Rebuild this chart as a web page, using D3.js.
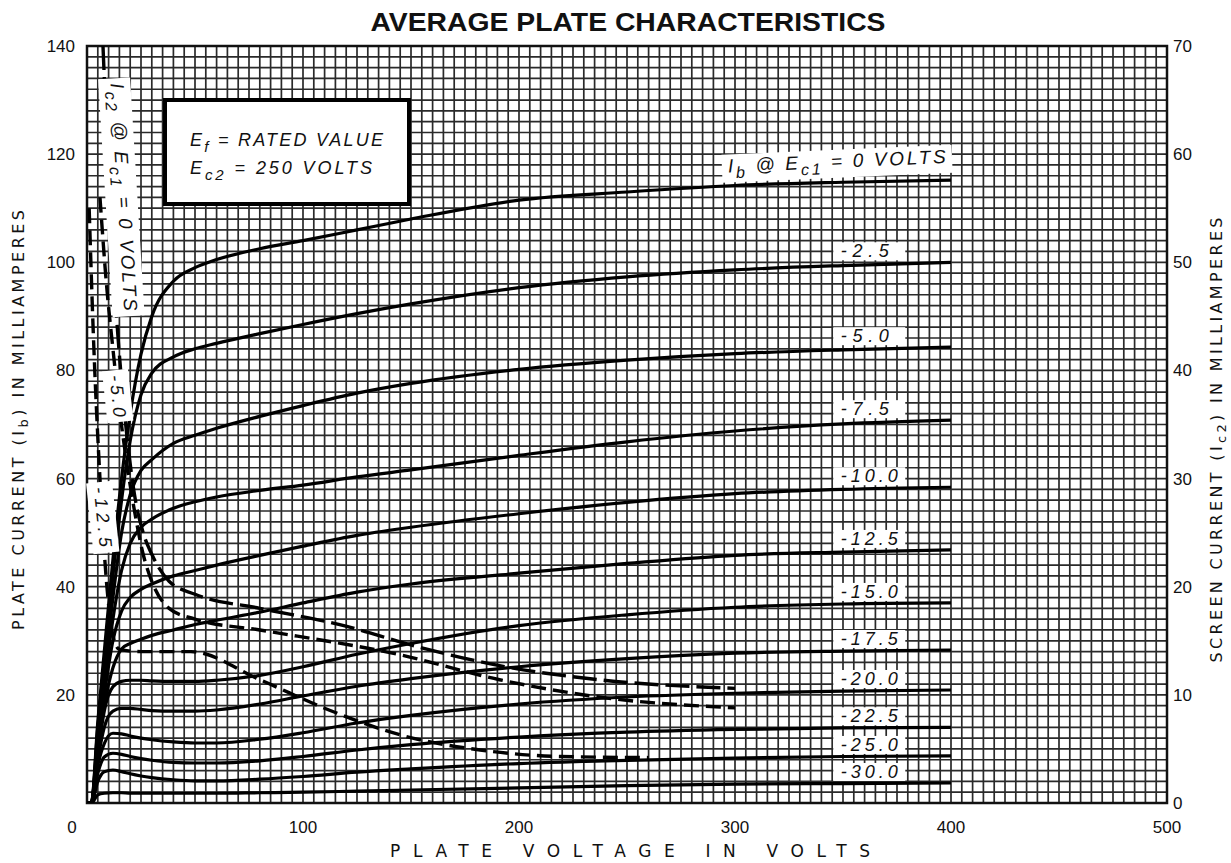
<!DOCTYPE html>
<html>
<head>
<meta charset="utf-8">
<script src="https://cdn.jsdelivr.net/npm/d3@7"></script>
<style>
  body { margin: 0; background: #fff; }
  text { font-family: "Liberation Sans", "DejaVu Sans", sans-serif; fill: #111; }
  .title { font-family: "DejaVu Sans", sans-serif; }
</style>
</head>
<body>
<div id="chart"></div>
<script>
// plate voltage samples shared by all Ib curves
const plateVolts = [2, 5, 8, 12, 16, 20, 25, 30, 40, 50, 60, 80, 100, 125, 150, 200, 250, 300, 350, 400];

// plate current (mA) for each control grid voltage
const ib_0    = [0, 15, 28, 45, 60, 72, 83, 90, 96.5, 99, 100.5, 102.5, 104, 106, 108, 111.5, 113, 114.2, 114.8, 115.2];
const ib_2_5  = [0, 14, 26, 42, 56, 67, 75.5, 79.5, 82.5, 84, 85, 86.8, 88.5, 90.5, 92.3, 95.3, 97.3, 98.6, 99.4, 100];
const ib_5    = [0, 13, 24, 38, 50, 57, 61.5, 63.5, 66.5, 68, 69.3, 71.5, 73.5, 75.8, 77.6, 80.2, 81.9, 83.1, 83.8, 84.3];
const ib_7_5  = [0, 12, 22, 34, 43, 48, 51, 52.5, 54.5, 55.7, 56.6, 57.8, 58.8, 60.3, 61.6, 64.3, 66.8, 68.8, 70.1, 70.8];
const ib_10   = [0, 11, 20, 30, 35.5, 38, 39.5, 40.5, 42, 43, 44, 45.8, 47.5, 49.5, 51, 53.5, 55.6, 57.2, 58, 58.4];
const ib_12_5 = [0, 10, 18, 25, 28.5, 29.5, 30.3, 31, 32, 33, 33.8, 35.3, 37, 39, 40.5, 42.5, 44.3, 45.8, 46.4, 46.8];
const ib_15   = [0, 9, 17, 21.5, 22.5, 22.7, 22.7, 22.6, 22.5, 22.5, 22.7, 23.6, 25.2, 27.5, 29.5, 32.8, 34.8, 36.2, 36.8, 37];
const ib_17_5 = [0, 8, 14, 17, 17.5, 17.5, 17.3, 17.1, 17, 17, 17.2, 18.3, 19.8, 21.6, 23, 25.2, 26.7, 27.7, 28.1, 28.3];
const ib_20   = [0, 7, 11, 12.9, 12.8, 12.4, 12, 11.7, 11.3, 11.1, 11.1, 11.8, 13, 14.8, 16.2, 18.3, 19.6, 20.3, 20.7, 20.9];
const ib_22_5 = [0, 5.5, 8.5, 9.2, 9, 8.6, 8.2, 7.9, 7.5, 7.4, 7.4, 7.8, 8.6, 9.8, 10.8, 12.2, 13.1, 13.6, 13.9, 14];
const ib_25   = [0, 4, 5.8, 6.1, 5.8, 5.4, 5, 4.7, 4.3, 4.1, 4.1, 4.4, 4.9, 5.7, 6.3, 7.3, 7.9, 8.3, 8.6, 8.7];
const ib_30   = [0, 1.5, 1.8, 1.9, 1.9, 1.8, 1.8, 1.8, 1.8, 1.8, 1.8, 1.9, 2, 2.2, 2.4, 2.8, 3.2, 3.5, 3.6, 3.7];

const curveLabels = ["0", "-2.5", "-5.0", "-7.5", "-10.0", "-12.5", "-15.0", "-17.5", "-20.0", "-22.5", "-25.0", "-30.0"];

// screen current (mA, right axis) curves
const ic2Volts_0  = [7.4, 10, 13, 16, 19, 22, 26, 30, 38, 50, 80, 117, 154, 191, 237, 300];
const ic2_0       = [70, 58, 47, 39, 33, 28.5, 25, 23, 20.5, 19.3, 18, 16.5, 14.4, 12.7, 11.4, 10.6];
const ic2Volts_5  = [6, 9, 12, 15, 18, 22, 26, 30, 38, 50, 80, 145, 191, 237, 300];
const ic2_5       = [56, 48, 42, 36.5, 32, 27, 23, 20.5, 18, 17, 16, 13.7, 11.4, 9.8, 8.8];
const ic2Volts_12 = [1, 3, 6, 9, 12, 15, 25, 48, 80, 112, 145, 182, 219, 260];
const ic2_12      = [55, 43, 30, 20.5, 15.5, 14.2, 14, 14, 11.4, 8.6, 6.3, 4.9, 4.3, 4.2];

const voltTicks = [100, 200, 300, 400, 500];
const plateTicks = [20, 40, 60, 80, 100, 120, 140];
const screenTicks = [0, 10, 20, 30, 40, 50, 60, 70];

const W = 1231, H = 863;
const padL = 87, padR = 1167, padT = 46, padB = 803;

const x = d3.scaleLinear().domain([0, 500]).range([padL, padR]);
const y = d3.scaleLinear().domain([0, 140]).range([padB, padT]);
const y2 = d3.scaleLinear().domain([0, 70]).range([padB, padT]);

const svg = d3.select("#chart").append("svg")
  .attr("width", W).attr("height", H);

svg.append("defs").append("clipPath").attr("id", "plot")
  .append("rect").attr("x", padL).attr("y", padT)
  .attr("width", padR - padL).attr("height", padB - padT);

// graph paper
const grid = svg.append("g").attr("stroke", "#2a2a2a").attr("stroke-width", 1.7);
grid.selectAll("line.v").data(d3.range(0, 501, 5)).join("line")
  .attr("x1", d => x(d)).attr("x2", d => x(d))
  .attr("y1", padT).attr("y2", padB);
grid.selectAll("line.h").data(d3.range(0, 141, 2)).join("line")
  .attr("y1", d => y(d)).attr("y2", d => y(d))
  .attr("x1", padL).attr("x2", padR);
svg.append("rect").attr("x", padL).attr("y", padT)
  .attr("width", padR - padL).attr("height", padB - padT)
  .attr("fill", "none").attr("stroke", "#111").attr("stroke-width", 2.5);

// plate curves
const plateCurves = [ib_0, ib_2_5, ib_5, ib_7_5, ib_10, ib_12_5, ib_15, ib_17_5, ib_20, ib_22_5, ib_25, ib_30]
  .map((ib, i) => ({ name: curveLabels[i], pts: plateVolts.map((v, j) => [v, ib[j]]) }));

const line = d3.line().x(d => x(d[0])).y(d => y(d[1])).curve(d3.curveMonotoneX);
const line2 = d3.line().x(d => x(d[0])).y(d => y2(d[1])).curve(d3.curveMonotoneX);

const curves = svg.append("g").attr("clip-path", "url(#plot)");
curves.selectAll("path.ib").data(plateCurves).join("path")
  .attr("d", d => line([[0, 0]].concat(d.pts)))
  .attr("fill", "none").attr("stroke", "#000").attr("stroke-width", 3.2);

const screenCurves = [
  { name: "0", pts: ic2Volts_0.map((v, j) => [v, ic2_0[j]]) },
  { name: "-5.0", pts: ic2Volts_5.map((v, j) => [v, ic2_5[j]]) },
  { name: "-12.5", pts: ic2Volts_12.map((v, j) => [v, ic2_12[j]]) }
];
curves.selectAll("path.ic2").data(screenCurves).join("path")
  .attr("d", d => line2(d.pts))
  .attr("fill", "none").attr("stroke", "#000").attr("stroke-width", 3.4)
  .attr("stroke-dasharray", (d, i) => i == 0 ? "24,7" : "15,7");

// boxed labels helper
function boxLabel(g, pad) {
  const bb = g.select("text").node().getBBox();
  g.insert("rect", "text")
    .attr("x", bb.x - pad[0]).attr("y", bb.y - pad[1])
    .attr("width", bb.width + 2 * pad[0]).attr("height", bb.height + 2 * pad[1])
    .attr("fill", "#fff");
}

// Ec1 labels on the plate curves
plateCurves.slice(1).forEach(c => {
  const yy = y(c.pts[c.pts.length - 1][1]);
  const g = svg.append("g");
  g.append("text").attr("x", x(349)).attr("y", yy - 5)
    .attr("font-size", 18).attr("font-style", "italic")
    .attr("textLength", c.name.length > 4 ? 57 : 48).attr("lengthAdjust", "spacing")
    .text(c.name);
  g.append("rect").lower()
    .attr("x", x(345.5)).attr("y", yy - 20).attr("width", 72).attr("height", 18)
    .attr("fill", "#fff");
});

// top curve label
{
  const g = svg.append("g").attr("transform", `rotate(-2.5, ${x(300)}, ${y(115)})`);
  const t = g.append("text").attr("x", x(297)).attr("y", y(115) - 9)
    .attr("font-size", 19).attr("font-style", "italic")
    .attr("textLength", 218).attr("lengthAdjust", "spacing");
  t.append("tspan").text("I");
  t.append("tspan").attr("dy", 6).attr("font-size", 16).text("b");
  t.append("tspan").attr("dy", -6).text(" @ E");
  t.append("tspan").attr("dy", 6).attr("font-size", 16).text("c1");
  t.append("tspan").attr("dy", -6).text(" = 0 VOLTS");
  boxLabel(g, [6, 1]);
}

// rotated labels on the screen curves
function steepLabel(cx, cy, ang, parts, size, len) {
  const g = svg.append("g").attr("transform", `translate(${cx},${cy}) rotate(${ang})`);
  const t = g.append("text").attr("text-anchor", "middle").attr("dy", "0.35em")
    .attr("font-size", size).attr("font-style", "italic")
    .attr("textLength", len).attr("lengthAdjust", "spacing");
  parts.forEach(p => {
    const s = t.append("tspan").text(p[0]);
    if (p[1]) s.attr("dy", p[1]);
    if (p[2]) s.attr("font-size", p[2]);
  });
  boxLabel(g, [5, 3]);
}
steepLabel(124, 197, 86.5, [["I"], ["c2", 6, 16], [" @ E", -6], ["c1", 6, 16], [" = 0 VOLTS", -6]], 19, 228);
steepLabel(118, 396, 84, [["-5.0"]], 18, 42);
steepLabel(103, 517, 84, [["-12.5"]], 18, 60);

// info box
{
  const g = svg.append("g");
  g.append("rect").attr("x", 165).attr("y", 100).attr("width", 244).attr("height", 104)
    .attr("fill", "#fff").attr("stroke", "#000").attr("stroke-width", 4);
  const t1 = g.append("text").attr("x", 190).attr("y", 146)
    .attr("font-size", 18).attr("font-style", "italic")
    .attr("textLength", 193).attr("lengthAdjust", "spacing");
  t1.append("tspan").text("E");
  t1.append("tspan").attr("dy", 6).attr("font-size", 15).text("f");
  t1.append("tspan").attr("dy", -6).text(" = RATED VALUE");
  const t2 = g.append("text").attr("x", 190).attr("y", 174)
    .attr("font-size", 18).attr("font-style", "italic")
    .attr("textLength", 182).attr("lengthAdjust", "spacing");
  t2.append("tspan").text("E");
  t2.append("tspan").attr("dy", 6).attr("font-size", 15).text("c2");
  t2.append("tspan").attr("dy", -6).text(" = 250 VOLTS");
}

// axes labels
svg.append("g").selectAll("text").data(plateTicks).join("text")
  .attr("x", padL - 12).attr("y", d => y(d)).attr("dy", "0.35em")
  .attr("text-anchor", "end").attr("font-size", 17).text(d => d);
svg.append("g").selectAll("text").data(screenTicks).join("text")
  .attr("x", padR + 6).attr("y", d => y2(d)).attr("dy", "0.35em")
  .attr("font-size", 17).text(d => d);
svg.append("g").selectAll("text").data([0].concat(voltTicks)).join("text")
  .attr("x", d => d == 0 ? x(0) - 15 : x(d)).attr("y", padB + 30)
  .attr("text-anchor", "middle").attr("font-size", 17).text(d => d);

svg.append("text").attr("x", 628).attr("y", 31).attr("text-anchor", "middle")
  .attr("font-size", 25).attr("font-weight", "bold")
  .attr("textLength", 515).attr("lengthAdjust", "spacingAndGlyphs")
  .text("AVERAGE PLATE CHARACTERISTICS");

svg.append("text").attr("class", "title").attr("x", 630).attr("y", 857).attr("text-anchor", "middle")
  .attr("font-size", 17).attr("textLength", 480).attr("lengthAdjust", "spacing")
  .text("PLATE VOLTAGE IN VOLTS");

{
  const t = svg.append("text").attr("class", "title").attr("transform", "translate(24,420) rotate(-90)")
    .attr("text-anchor", "middle").attr("font-size", 16)
    .attr("textLength", 420).attr("lengthAdjust", "spacing");
  t.append("tspan").text("PLATE CURRENT (I");
  t.append("tspan").attr("dy", 4).attr("font-size", 13).text("b");
  t.append("tspan").attr("dy", -4).text(") IN MILLIAMPERES");
}
{
  const t = svg.append("text").attr("class", "title").attr("transform", "translate(1222,440) rotate(-90)")
    .attr("text-anchor", "middle").attr("font-size", 16)
    .attr("textLength", 445).attr("lengthAdjust", "spacing");
  t.append("tspan").text("SCREEN CURRENT (I");
  t.append("tspan").attr("dy", 4).attr("font-size", 13).text("c2");
  t.append("tspan").attr("dy", -4).text(") IN MILLIAMPERES");
}
</script>
</body>
</html>
